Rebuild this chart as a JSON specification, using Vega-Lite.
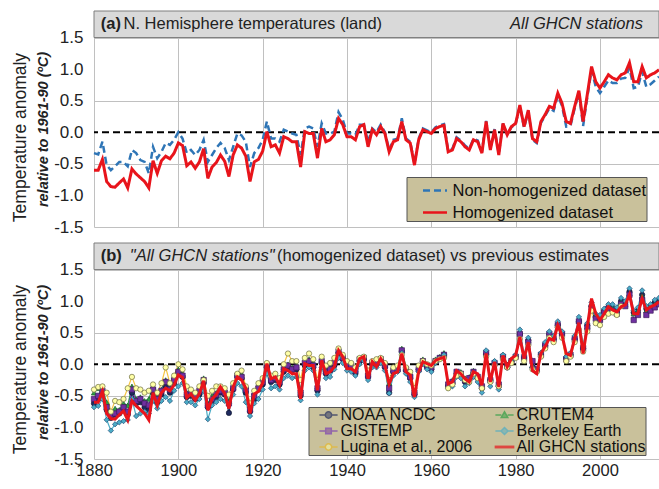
{
"$schema": "https://vega.github.io/schema/vega-lite/v6.json",
"background": "white",
"padding": {"left": 11, "top": 10, "right": 0, "bottom": 0},
"spacing": 7,
"config": {
  "font": "Liberation Sans",
  "view": {"stroke": null},
  "axis": {"labelFont": "Liberation Sans", "titleFont": "Liberation Sans", "labelColor": "#222222", "titleColor": "#222222", "labelOverlap": false, "labelSeparation": -100},
  "legend": {"labelFont": "Liberation Sans"}
},
"datasets": {
"a": [
{"yr":1880,"s":"non","v":-0.33},{"yr":1881,"s":"non","v":-0.35},{"yr":1882,"s":"non","v":-0.15},{"yr":1883,"s":"non","v":-0.52},{"yr":1884,"s":"non","v":-0.60},{"yr":1885,"s":"non","v":-0.54},{"yr":1886,"s":"non","v":-0.47},{"yr":1887,"s":"non","v":-0.47},{"yr":1888,"s":"non","v":-0.54},{"yr":1889,"s":"non","v":-0.28},
{"yr":1890,"s":"non","v":-0.33},{"yr":1891,"s":"non","v":-0.44},{"yr":1892,"s":"non","v":-0.47},{"yr":1893,"s":"non","v":-0.65},{"yr":1894,"s":"non","v":-0.23},{"yr":1895,"s":"non","v":-0.41},{"yr":1896,"s":"non","v":-0.31},{"yr":1897,"s":"non","v":-0.17},{"yr":1898,"s":"non","v":-0.20},{"yr":1899,"s":"non","v":-0.12},
{"yr":1900,"s":"non","v":0.00},{"yr":1901,"s":"non","v":-0.10},{"yr":1902,"s":"non","v":-0.33},{"yr":1903,"s":"non","v":-0.28},{"yr":1904,"s":"non","v":-0.36},{"yr":1905,"s":"non","v":-0.28},{"yr":1906,"s":"non","v":-0.12},{"yr":1907,"s":"non","v":-0.47},{"yr":1908,"s":"non","v":-0.36},{"yr":1909,"s":"non","v":-0.25},
{"yr":1910,"s":"non","v":-0.17},{"yr":1911,"s":"non","v":-0.25},{"yr":1912,"s":"non","v":-0.44},{"yr":1913,"s":"non","v":-0.23},{"yr":1914,"s":"non","v":-0.02},{"yr":1915,"s":"non","v":-0.05},{"yr":1916,"s":"non","v":-0.15},{"yr":1917,"s":"non","v":-0.55},{"yr":1918,"s":"non","v":-0.33},{"yr":1919,"s":"non","v":-0.25},
{"yr":1920,"s":"non","v":-0.12},{"yr":1921,"s":"non","v":0.17},{"yr":1922,"s":"non","v":-0.10},{"yr":1923,"s":"non","v":-0.10},{"yr":1924,"s":"non","v":-0.15},{"yr":1925,"s":"non","v":0.04},{"yr":1926,"s":"non","v":0.01},{"yr":1927,"s":"non","v":-0.02},{"yr":1928,"s":"non","v":-0.04},{"yr":1929,"s":"non","v":-0.36},
{"yr":1930,"s":"non","v":0.06},{"yr":1931,"s":"non","v":0.09},{"yr":1932,"s":"non","v":0.06},{"yr":1933,"s":"non","v":-0.23},{"yr":1934,"s":"non","v":0.14},{"yr":1935,"s":"non","v":-0.02},{"yr":1936,"s":"non","v":-0.02},{"yr":1937,"s":"non","v":0.01},{"yr":1938,"s":"non","v":0.32},{"yr":1939,"s":"non","v":0.20},
{"yr":1940,"s":"non","v":-0.02},{"yr":1941,"s":"non","v":-0.02},{"yr":1942,"s":"non","v":-0.04},{"yr":1943,"s":"non","v":0.12},{"yr":1944,"s":"non","v":0.12},{"yr":1945,"s":"non","v":-0.15},{"yr":1946,"s":"non","v":0.06},{"yr":1947,"s":"non","v":0.00},{"yr":1948,"s":"non","v":0.12},{"yr":1949,"s":"non","v":0.00},
{"yr":1950,"s":"non","v":-0.28},{"yr":1951,"s":"non","v":-0.12},{"yr":1952,"s":"non","v":-0.10},{"yr":1953,"s":"non","v":0.22},{"yr":1954,"s":"non","v":-0.10},{"yr":1955,"s":"non","v":-0.15},{"yr":1956,"s":"non","v":-0.50},{"yr":1957,"s":"non","v":-0.10},{"yr":1958,"s":"non","v":0.06},{"yr":1959,"s":"non","v":0.03},
{"yr":1960,"s":"non","v":0.00},{"yr":1961,"s":"non","v":0.08},{"yr":1962,"s":"non","v":0.11},{"yr":1963,"s":"non","v":0.13},{"yr":1964,"s":"non","v":-0.29},{"yr":1965,"s":"non","v":-0.26},{"yr":1966,"s":"non","v":-0.08},{"yr":1967,"s":"non","v":-0.13},{"yr":1968,"s":"non","v":-0.21},{"yr":1969,"s":"non","v":-0.26},
{"yr":1970,"s":"non","v":-0.10},{"yr":1971,"s":"non","v":-0.13},{"yr":1972,"s":"non","v":-0.31},{"yr":1973,"s":"non","v":0.18},{"yr":1974,"s":"non","v":-0.26},{"yr":1975,"s":"non","v":0.05},{"yr":1976,"s":"non","v":-0.34},{"yr":1977,"s":"non","v":0.14},{"yr":1978,"s":"non","v":-0.04},{"yr":1979,"s":"non","v":0.08},
{"yr":1980,"s":"non","v":0.13},{"yr":1981,"s":"non","v":0.42},{"yr":1982,"s":"non","v":0.07},{"yr":1983,"s":"non","v":0.33},{"yr":1984,"s":"non","v":-0.12},{"yr":1985,"s":"non","v":-0.17},{"yr":1986,"s":"non","v":0.15},{"yr":1987,"s":"non","v":0.26},{"yr":1988,"s":"non","v":0.38},{"yr":1989,"s":"non","v":0.34},
{"yr":1990,"s":"non","v":0.58},{"yr":1991,"s":"non","v":0.42},{"yr":1992,"s":"non","v":0.09},{"yr":1993,"s":"non","v":0.10},{"yr":1994,"s":"non","v":0.38},{"yr":1995,"s":"non","v":0.62},{"yr":1996,"s":"non","v":0.10},{"yr":1997,"s":"non","v":0.56},{"yr":1998,"s":"non","v":0.98},{"yr":1999,"s":"non","v":0.72},
{"yr":2000,"s":"non","v":0.62},{"yr":2001,"s":"non","v":0.72},{"yr":2002,"s":"non","v":0.82},{"yr":2003,"s":"non","v":0.78},{"yr":2004,"s":"non","v":0.78},{"yr":2005,"s":"non","v":0.85},{"yr":2006,"s":"non","v":0.86},{"yr":2007,"s":"non","v":1.02},{"yr":2008,"s":"non","v":0.70},{"yr":2009,"s":"non","v":0.72},
{"yr":2010,"s":"non","v":0.96},{"yr":2011,"s":"non","v":0.72},{"yr":2012,"s":"non","v":0.76},{"yr":2013,"s":"non","v":0.82},{"yr":2014,"s":"non","v":0.88},
{"yr":1880,"s":"hom","v":-0.60},{"yr":1881,"s":"hom","v":-0.60},{"yr":1882,"s":"hom","v":-0.43},{"yr":1883,"s":"hom","v":-0.78},{"yr":1884,"s":"hom","v":-0.86},{"yr":1885,"s":"hom","v":-0.87},{"yr":1886,"s":"hom","v":-0.80},{"yr":1887,"s":"hom","v":-0.74},{"yr":1888,"s":"hom","v":-0.88},{"yr":1889,"s":"hom","v":-0.58},
{"yr":1890,"s":"hom","v":-0.66},{"yr":1891,"s":"hom","v":-0.72},{"yr":1892,"s":"hom","v":-0.78},{"yr":1893,"s":"hom","v":-0.88},{"yr":1894,"s":"hom","v":-0.45},{"yr":1895,"s":"hom","v":-0.65},{"yr":1896,"s":"hom","v":-0.45},{"yr":1897,"s":"hom","v":-0.38},{"yr":1898,"s":"hom","v":-0.42},{"yr":1899,"s":"hom","v":-0.33},
{"yr":1900,"s":"hom","v":-0.17},{"yr":1901,"s":"hom","v":-0.21},{"yr":1902,"s":"hom","v":-0.53},{"yr":1903,"s":"hom","v":-0.47},{"yr":1904,"s":"hom","v":-0.57},{"yr":1905,"s":"hom","v":-0.47},{"yr":1906,"s":"hom","v":-0.26},{"yr":1907,"s":"hom","v":-0.73},{"yr":1908,"s":"hom","v":-0.55},{"yr":1909,"s":"hom","v":-0.48},
{"yr":1910,"s":"hom","v":-0.36},{"yr":1911,"s":"hom","v":-0.46},{"yr":1912,"s":"hom","v":-0.70},{"yr":1913,"s":"hom","v":-0.36},{"yr":1914,"s":"hom","v":-0.20},{"yr":1915,"s":"hom","v":-0.25},{"yr":1916,"s":"hom","v":-0.38},{"yr":1917,"s":"hom","v":-0.78},{"yr":1918,"s":"hom","v":-0.47},{"yr":1919,"s":"hom","v":-0.43},
{"yr":1920,"s":"hom","v":-0.30},{"yr":1921,"s":"hom","v":0.01},{"yr":1922,"s":"hom","v":-0.23},{"yr":1923,"s":"hom","v":-0.20},{"yr":1924,"s":"hom","v":-0.33},{"yr":1925,"s":"hom","v":-0.07},{"yr":1926,"s":"hom","v":-0.10},{"yr":1927,"s":"hom","v":-0.15},{"yr":1928,"s":"hom","v":-0.15},{"yr":1929,"s":"hom","v":-0.55},
{"yr":1930,"s":"hom","v":0.01},{"yr":1931,"s":"hom","v":-0.02},{"yr":1932,"s":"hom","v":-0.02},{"yr":1933,"s":"hom","v":-0.41},{"yr":1934,"s":"hom","v":0.06},{"yr":1935,"s":"hom","v":-0.15},{"yr":1936,"s":"hom","v":-0.12},{"yr":1937,"s":"hom","v":-0.04},{"yr":1938,"s":"hom","v":0.22},{"yr":1939,"s":"hom","v":0.12},
{"yr":1940,"s":"hom","v":-0.07},{"yr":1941,"s":"hom","v":-0.07},{"yr":1942,"s":"hom","v":-0.12},{"yr":1943,"s":"hom","v":0.09},{"yr":1944,"s":"hom","v":0.12},{"yr":1945,"s":"hom","v":-0.23},{"yr":1946,"s":"hom","v":0.04},{"yr":1947,"s":"hom","v":-0.04},{"yr":1948,"s":"hom","v":0.09},{"yr":1949,"s":"hom","v":-0.02},
{"yr":1950,"s":"hom","v":-0.31},{"yr":1951,"s":"hom","v":-0.15},{"yr":1952,"s":"hom","v":-0.12},{"yr":1953,"s":"hom","v":0.17},{"yr":1954,"s":"hom","v":-0.12},{"yr":1955,"s":"hom","v":-0.17},{"yr":1956,"s":"hom","v":-0.52},{"yr":1957,"s":"hom","v":-0.12},{"yr":1958,"s":"hom","v":0.04},{"yr":1959,"s":"hom","v":0.01},
{"yr":1960,"s":"hom","v":-0.02},{"yr":1961,"s":"hom","v":0.06},{"yr":1962,"s":"hom","v":0.09},{"yr":1963,"s":"hom","v":0.11},{"yr":1964,"s":"hom","v":-0.31},{"yr":1965,"s":"hom","v":-0.28},{"yr":1966,"s":"hom","v":-0.10},{"yr":1967,"s":"hom","v":-0.15},{"yr":1968,"s":"hom","v":-0.23},{"yr":1969,"s":"hom","v":-0.28},
{"yr":1970,"s":"hom","v":-0.12},{"yr":1971,"s":"hom","v":-0.15},{"yr":1972,"s":"hom","v":-0.33},{"yr":1973,"s":"hom","v":0.17},{"yr":1974,"s":"hom","v":-0.28},{"yr":1975,"s":"hom","v":0.04},{"yr":1976,"s":"hom","v":-0.36},{"yr":1977,"s":"hom","v":0.14},{"yr":1978,"s":"hom","v":-0.04},{"yr":1979,"s":"hom","v":0.09},
{"yr":1980,"s":"hom","v":0.14},{"yr":1981,"s":"hom","v":0.43},{"yr":1982,"s":"hom","v":0.09},{"yr":1983,"s":"hom","v":0.35},{"yr":1984,"s":"hom","v":-0.10},{"yr":1985,"s":"hom","v":-0.15},{"yr":1986,"s":"hom","v":0.17},{"yr":1987,"s":"hom","v":0.28},{"yr":1988,"s":"hom","v":0.41},{"yr":1989,"s":"hom","v":0.38},
{"yr":1990,"s":"hom","v":0.62},{"yr":1991,"s":"hom","v":0.46},{"yr":1992,"s":"hom","v":0.17},{"yr":1993,"s":"hom","v":0.14},{"yr":1994,"s":"hom","v":0.41},{"yr":1995,"s":"hom","v":0.66},{"yr":1996,"s":"hom","v":0.17},{"yr":1997,"s":"hom","v":0.60},{"yr":1998,"s":"hom","v":1.04},{"yr":1999,"s":"hom","v":0.80},
{"yr":2000,"s":"hom","v":0.70},{"yr":2001,"s":"hom","v":0.80},{"yr":2002,"s":"hom","v":0.91},{"yr":2003,"s":"hom","v":0.86},{"yr":2004,"s":"hom","v":0.83},{"yr":2005,"s":"hom","v":0.91},{"yr":2006,"s":"hom","v":0.94},{"yr":2007,"s":"hom","v":1.10},{"yr":2008,"s":"hom","v":0.80},{"yr":2009,"s":"hom","v":0.80},
{"yr":2010,"s":"hom","v":1.04},{"yr":2011,"s":"hom","v":0.86},{"yr":2012,"s":"hom","v":0.91},{"yr":2013,"s":"hom","v":0.94},{"yr":2014,"s":"hom","v":0.99}
],
"b": [
{"yr":1880,"s":"NOAA","v":-0.62},{"yr":1881,"s":"NOAA","v":-0.55},{"yr":1882,"s":"NOAA","v":-0.45},{"yr":1883,"s":"NOAA","v":-0.72},{"yr":1884,"s":"NOAA","v":-0.85},{"yr":1885,"s":"NOAA","v":-0.80},{"yr":1886,"s":"NOAA","v":-0.78},{"yr":1887,"s":"NOAA","v":-0.72},{"yr":1888,"s":"NOAA","v":-0.80},{"yr":1889,"s":"NOAA","v":-0.45},
{"yr":1890,"s":"NOAA","v":-0.62},{"yr":1891,"s":"NOAA","v":-0.60},{"yr":1892,"s":"NOAA","v":-0.68},{"yr":1893,"s":"NOAA","v":-0.72},{"yr":1894,"s":"NOAA","v":-0.45},{"yr":1895,"s":"NOAA","v":-0.60},{"yr":1896,"s":"NOAA","v":-0.48},{"yr":1897,"s":"NOAA","v":-0.35},{"yr":1898,"s":"NOAA","v":-0.45},{"yr":1899,"s":"NOAA","v":-0.30},
{"yr":1900,"s":"NOAA","v":-0.15},{"yr":1901,"s":"NOAA","v":-0.20},{"yr":1902,"s":"NOAA","v":-0.52},{"yr":1903,"s":"NOAA","v":-0.50},{"yr":1904,"s":"NOAA","v":-0.55},{"yr":1905,"s":"NOAA","v":-0.48},{"yr":1906,"s":"NOAA","v":-0.30},{"yr":1907,"s":"NOAA","v":-0.68},{"yr":1908,"s":"NOAA","v":-0.58},{"yr":1909,"s":"NOAA","v":-0.52},
{"yr":1910,"s":"NOAA","v":-0.45},{"yr":1911,"s":"NOAA","v":-0.48},{"yr":1912,"s":"NOAA","v":-0.77},{"yr":1913,"s":"NOAA","v":-0.40},{"yr":1914,"s":"NOAA","v":-0.20},{"yr":1915,"s":"NOAA","v":-0.22},{"yr":1916,"s":"NOAA","v":-0.45},{"yr":1917,"s":"NOAA","v":-0.75},{"yr":1918,"s":"NOAA","v":-0.55},{"yr":1919,"s":"NOAA","v":-0.40},
{"yr":1920,"s":"NOAA","v":-0.32},{"yr":1921,"s":"NOAA","v":-0.05},{"yr":1922,"s":"NOAA","v":-0.28},{"yr":1923,"s":"NOAA","v":-0.25},{"yr":1924,"s":"NOAA","v":-0.32},{"yr":1925,"s":"NOAA","v":-0.12},{"yr":1926,"s":"NOAA","v":-0.05},{"yr":1927,"s":"NOAA","v":-0.10},{"yr":1928,"s":"NOAA","v":-0.08},{"yr":1929,"s":"NOAA","v":-0.50},
{"yr":1930,"s":"NOAA","v":-0.02},{"yr":1931,"s":"NOAA","v":0.02},{"yr":1932,"s":"NOAA","v":-0.05},{"yr":1933,"s":"NOAA","v":-0.42},{"yr":1934,"s":"NOAA","v":0.02},{"yr":1935,"s":"NOAA","v":-0.15},{"yr":1936,"s":"NOAA","v":-0.10},{"yr":1937,"s":"NOAA","v":-0.02},{"yr":1938,"s":"NOAA","v":0.18},{"yr":1939,"s":"NOAA","v":0.08},
{"yr":1940,"s":"NOAA","v":-0.02},{"yr":1941,"s":"NOAA","v":-0.05},{"yr":1942,"s":"NOAA","v":-0.15},{"yr":1943,"s":"NOAA","v":0.05},{"yr":1944,"s":"NOAA","v":0.08},{"yr":1945,"s":"NOAA","v":-0.20},{"yr":1946,"s":"NOAA","v":0.00},{"yr":1947,"s":"NOAA","v":0.00},{"yr":1948,"s":"NOAA","v":0.05},{"yr":1949,"s":"NOAA","v":-0.05},
{"yr":1950,"s":"NOAA","v":-0.45},{"yr":1951,"s":"NOAA","v":-0.12},{"yr":1952,"s":"NOAA","v":-0.10},{"yr":1953,"s":"NOAA","v":0.20},{"yr":1954,"s":"NOAA","v":-0.10},{"yr":1955,"s":"NOAA","v":-0.22},{"yr":1956,"s":"NOAA","v":-0.48},{"yr":1957,"s":"NOAA","v":-0.08},{"yr":1958,"s":"NOAA","v":0.05},{"yr":1959,"s":"NOAA","v":-0.05},
{"yr":1960,"s":"NOAA","v":-0.08},{"yr":1961,"s":"NOAA","v":0.05},{"yr":1962,"s":"NOAA","v":0.10},{"yr":1963,"s":"NOAA","v":0.15},{"yr":1964,"s":"NOAA","v":-0.35},{"yr":1965,"s":"NOAA","v":-0.30},{"yr":1966,"s":"NOAA","v":-0.15},{"yr":1967,"s":"NOAA","v":-0.18},{"yr":1968,"s":"NOAA","v":-0.28},{"yr":1969,"s":"NOAA","v":-0.25},
{"yr":1970,"s":"NOAA","v":-0.15},{"yr":1971,"s":"NOAA","v":-0.22},{"yr":1972,"s":"NOAA","v":-0.38},{"yr":1973,"s":"NOAA","v":0.15},{"yr":1974,"s":"NOAA","v":-0.25},{"yr":1975,"s":"NOAA","v":0.00},{"yr":1976,"s":"NOAA","v":-0.35},{"yr":1977,"s":"NOAA","v":0.10},{"yr":1978,"s":"NOAA","v":-0.05},{"yr":1979,"s":"NOAA","v":0.05},
{"yr":1980,"s":"NOAA","v":0.12},{"yr":1981,"s":"NOAA","v":0.48},{"yr":1982,"s":"NOAA","v":0.10},{"yr":1983,"s":"NOAA","v":0.38},{"yr":1984,"s":"NOAA","v":-0.05},{"yr":1985,"s":"NOAA","v":-0.10},{"yr":1986,"s":"NOAA","v":0.15},{"yr":1987,"s":"NOAA","v":0.30},{"yr":1988,"s":"NOAA","v":0.48},{"yr":1989,"s":"NOAA","v":0.40},
{"yr":1990,"s":"NOAA","v":0.62},{"yr":1991,"s":"NOAA","v":0.48},{"yr":1992,"s":"NOAA","v":0.10},{"yr":1993,"s":"NOAA","v":0.15},{"yr":1994,"s":"NOAA","v":0.40},{"yr":1995,"s":"NOAA","v":0.68},{"yr":1996,"s":"NOAA","v":0.25},{"yr":1997,"s":"NOAA","v":0.62},{"yr":1998,"s":"NOAA","v":0.92},{"yr":1999,"s":"NOAA","v":0.75},
{"yr":2000,"s":"NOAA","v":0.72},{"yr":2001,"s":"NOAA","v":0.85},{"yr":2002,"s":"NOAA","v":0.90},{"yr":2003,"s":"NOAA","v":0.88},{"yr":2004,"s":"NOAA","v":0.85},{"yr":2005,"s":"NOAA","v":1.00},{"yr":2006,"s":"NOAA","v":0.98},{"yr":2007,"s":"NOAA","v":1.15},{"yr":2008,"s":"NOAA","v":0.82},{"yr":2009,"s":"NOAA","v":0.85},
{"yr":2010,"s":"NOAA","v":1.10},{"yr":2011,"s":"NOAA","v":0.88},{"yr":2012,"s":"NOAA","v":0.92},{"yr":2013,"s":"NOAA","v":0.98},{"yr":2014,"s":"NOAA","v":1.00},
{"yr":1880,"s":"CRU","v":-0.45},{"yr":1881,"s":"CRU","v":-0.38},{"yr":1882,"s":"CRU","v":-0.40},{"yr":1883,"s":"CRU","v":-0.60},{"yr":1884,"s":"CRU","v":-0.78},{"yr":1885,"s":"CRU","v":-0.70},{"yr":1886,"s":"CRU","v":-0.72},{"yr":1887,"s":"CRU","v":-0.62},{"yr":1888,"s":"CRU","v":-0.65},{"yr":1889,"s":"CRU","v":-0.35},
{"yr":1890,"s":"CRU","v":-0.55},{"yr":1891,"s":"CRU","v":-0.52},{"yr":1892,"s":"CRU","v":-0.58},{"yr":1893,"s":"CRU","v":-0.55},{"yr":1894,"s":"CRU","v":-0.35},{"yr":1895,"s":"CRU","v":-0.50},{"yr":1896,"s":"CRU","v":-0.40},{"yr":1897,"s":"CRU","v":-0.25},{"yr":1898,"s":"CRU","v":-0.38},{"yr":1899,"s":"CRU","v":-0.20},
{"yr":1900,"s":"CRU","v":-0.08},{"yr":1901,"s":"CRU","v":-0.15},{"yr":1902,"s":"CRU","v":-0.45},{"yr":1903,"s":"CRU","v":-0.42},{"yr":1904,"s":"CRU","v":-0.50},{"yr":1905,"s":"CRU","v":-0.40},{"yr":1906,"s":"CRU","v":-0.22},{"yr":1907,"s":"CRU","v":-0.62},{"yr":1908,"s":"CRU","v":-0.50},{"yr":1909,"s":"CRU","v":-0.45},
{"yr":1910,"s":"CRU","v":-0.38},{"yr":1911,"s":"CRU","v":-0.42},{"yr":1912,"s":"CRU","v":-0.58},{"yr":1913,"s":"CRU","v":-0.35},{"yr":1914,"s":"CRU","v":-0.15},{"yr":1915,"s":"CRU","v":-0.15},{"yr":1916,"s":"CRU","v":-0.35},{"yr":1917,"s":"CRU","v":-0.65},{"yr":1918,"s":"CRU","v":-0.45},{"yr":1919,"s":"CRU","v":-0.32},
{"yr":1920,"s":"CRU","v":-0.25},{"yr":1921,"s":"CRU","v":0.00},{"yr":1922,"s":"CRU","v":-0.22},{"yr":1923,"s":"CRU","v":-0.20},{"yr":1924,"s":"CRU","v":-0.25},{"yr":1925,"s":"CRU","v":-0.05},{"yr":1926,"s":"CRU","v":0.00},{"yr":1927,"s":"CRU","v":-0.05},{"yr":1928,"s":"CRU","v":-0.02},{"yr":1929,"s":"CRU","v":-0.42},
{"yr":1930,"s":"CRU","v":0.05},{"yr":1931,"s":"CRU","v":0.08},{"yr":1932,"s":"CRU","v":0.02},{"yr":1933,"s":"CRU","v":-0.35},{"yr":1934,"s":"CRU","v":0.08},{"yr":1935,"s":"CRU","v":-0.08},{"yr":1936,"s":"CRU","v":-0.05},{"yr":1937,"s":"CRU","v":0.05},{"yr":1938,"s":"CRU","v":0.22},{"yr":1939,"s":"CRU","v":0.12},
{"yr":1940,"s":"CRU","v":0.02},{"yr":1941,"s":"CRU","v":0.00},{"yr":1942,"s":"CRU","v":-0.08},{"yr":1943,"s":"CRU","v":0.10},{"yr":1944,"s":"CRU","v":0.12},{"yr":1945,"s":"CRU","v":-0.12},{"yr":1946,"s":"CRU","v":0.05},{"yr":1947,"s":"CRU","v":0.05},{"yr":1948,"s":"CRU","v":0.10},{"yr":1949,"s":"CRU","v":0.00},
{"yr":1950,"s":"CRU","v":-0.30},{"yr":1951,"s":"CRU","v":-0.08},{"yr":1952,"s":"CRU","v":-0.05},{"yr":1953,"s":"CRU","v":0.25},{"yr":1954,"s":"CRU","v":-0.05},{"yr":1955,"s":"CRU","v":-0.15},{"yr":1956,"s":"CRU","v":-0.42},{"yr":1957,"s":"CRU","v":-0.05},{"yr":1958,"s":"CRU","v":0.08},{"yr":1959,"s":"CRU","v":0.00},
{"yr":1960,"s":"CRU","v":-0.02},{"yr":1961,"s":"CRU","v":0.08},{"yr":1962,"s":"CRU","v":0.12},{"yr":1963,"s":"CRU","v":0.18},{"yr":1964,"s":"CRU","v":-0.30},{"yr":1965,"s":"CRU","v":-0.25},{"yr":1966,"s":"CRU","v":-0.12},{"yr":1967,"s":"CRU","v":-0.12},{"yr":1968,"s":"CRU","v":-0.22},{"yr":1969,"s":"CRU","v":-0.20},
{"yr":1970,"s":"CRU","v":-0.10},{"yr":1971,"s":"CRU","v":-0.18},{"yr":1972,"s":"CRU","v":-0.32},{"yr":1973,"s":"CRU","v":0.20},{"yr":1974,"s":"CRU","v":-0.22},{"yr":1975,"s":"CRU","v":0.05},{"yr":1976,"s":"CRU","v":-0.30},{"yr":1977,"s":"CRU","v":0.15},{"yr":1978,"s":"CRU","v":0.00},{"yr":1979,"s":"CRU","v":0.08},
{"yr":1980,"s":"CRU","v":0.15},{"yr":1981,"s":"CRU","v":0.50},{"yr":1982,"s":"CRU","v":0.12},{"yr":1983,"s":"CRU","v":0.38},{"yr":1984,"s":"CRU","v":-0.02},{"yr":1985,"s":"CRU","v":-0.08},{"yr":1986,"s":"CRU","v":0.18},{"yr":1987,"s":"CRU","v":0.32},{"yr":1988,"s":"CRU","v":0.50},{"yr":1989,"s":"CRU","v":0.42},
{"yr":1990,"s":"CRU","v":0.65},{"yr":1991,"s":"CRU","v":0.50},{"yr":1992,"s":"CRU","v":0.12},{"yr":1993,"s":"CRU","v":0.18},{"yr":1994,"s":"CRU","v":0.42},{"yr":1995,"s":"CRU","v":0.70},{"yr":1996,"s":"CRU","v":0.28},{"yr":1997,"s":"CRU","v":0.60},{"yr":1998,"s":"CRU","v":0.95},{"yr":1999,"s":"CRU","v":0.78},
{"yr":2000,"s":"CRU","v":0.72},{"yr":2001,"s":"CRU","v":0.85},{"yr":2002,"s":"CRU","v":0.92},{"yr":2003,"s":"CRU","v":0.90},{"yr":2004,"s":"CRU","v":0.85},{"yr":2005,"s":"CRU","v":0.98},{"yr":2006,"s":"CRU","v":0.95},{"yr":2007,"s":"CRU","v":1.12},{"yr":2008,"s":"CRU","v":0.80},{"yr":2009,"s":"CRU","v":0.85},
{"yr":2010,"s":"CRU","v":1.08},{"yr":2011,"s":"CRU","v":0.85},{"yr":2012,"s":"CRU","v":0.90},{"yr":2013,"s":"CRU","v":0.95},{"yr":2014,"s":"CRU","v":0.98},
{"yr":1880,"s":"GISS","v":-0.55},{"yr":1881,"s":"GISS","v":-0.50},{"yr":1882,"s":"GISS","v":-0.42},{"yr":1883,"s":"GISS","v":-0.68},{"yr":1884,"s":"GISS","v":-0.80},{"yr":1885,"s":"GISS","v":-0.78},{"yr":1886,"s":"GISS","v":-0.75},{"yr":1887,"s":"GISS","v":-0.68},{"yr":1888,"s":"GISS","v":-0.75},{"yr":1889,"s":"GISS","v":-0.40},
{"yr":1890,"s":"GISS","v":-0.58},{"yr":1891,"s":"GISS","v":-0.55},{"yr":1892,"s":"GISS","v":-0.62},{"yr":1893,"s":"GISS","v":-0.65},{"yr":1894,"s":"GISS","v":-0.40},{"yr":1895,"s":"GISS","v":-0.55},{"yr":1896,"s":"GISS","v":-0.42},{"yr":1897,"s":"GISS","v":-0.28},{"yr":1898,"s":"GISS","v":-0.40},{"yr":1899,"s":"GISS","v":-0.25},
{"yr":1900,"s":"GISS","v":-0.12},{"yr":1901,"s":"GISS","v":-0.18},{"yr":1902,"s":"GISS","v":-0.48},{"yr":1903,"s":"GISS","v":-0.45},{"yr":1904,"s":"GISS","v":-0.52},{"yr":1905,"s":"GISS","v":-0.42},{"yr":1906,"s":"GISS","v":-0.25},{"yr":1907,"s":"GISS","v":-0.65},{"yr":1908,"s":"GISS","v":-0.55},{"yr":1909,"s":"GISS","v":-0.48},
{"yr":1910,"s":"GISS","v":-0.42},{"yr":1911,"s":"GISS","v":-0.45},{"yr":1912,"s":"GISS","v":-0.62},{"yr":1913,"s":"GISS","v":-0.38},{"yr":1914,"s":"GISS","v":-0.18},{"yr":1915,"s":"GISS","v":-0.20},{"yr":1916,"s":"GISS","v":-0.40},{"yr":1917,"s":"GISS","v":-0.72},{"yr":1918,"s":"GISS","v":-0.50},{"yr":1919,"s":"GISS","v":-0.38},
{"yr":1920,"s":"GISS","v":-0.28},{"yr":1921,"s":"GISS","v":-0.02},{"yr":1922,"s":"GISS","v":-0.25},{"yr":1923,"s":"GISS","v":-0.22},{"yr":1924,"s":"GISS","v":-0.28},{"yr":1925,"s":"GISS","v":-0.08},{"yr":1926,"s":"GISS","v":-0.02},{"yr":1927,"s":"GISS","v":-0.08},{"yr":1928,"s":"GISS","v":-0.05},{"yr":1929,"s":"GISS","v":-0.45},
{"yr":1930,"s":"GISS","v":0.02},{"yr":1931,"s":"GISS","v":0.05},{"yr":1932,"s":"GISS","v":-0.02},{"yr":1933,"s":"GISS","v":-0.38},{"yr":1934,"s":"GISS","v":0.05},{"yr":1935,"s":"GISS","v":-0.12},{"yr":1936,"s":"GISS","v":-0.08},{"yr":1937,"s":"GISS","v":0.02},{"yr":1938,"s":"GISS","v":0.20},{"yr":1939,"s":"GISS","v":0.10},
{"yr":1940,"s":"GISS","v":0.00},{"yr":1941,"s":"GISS","v":-0.02},{"yr":1942,"s":"GISS","v":-0.10},{"yr":1943,"s":"GISS","v":0.08},{"yr":1944,"s":"GISS","v":0.10},{"yr":1945,"s":"GISS","v":-0.18},{"yr":1946,"s":"GISS","v":0.02},{"yr":1947,"s":"GISS","v":0.02},{"yr":1948,"s":"GISS","v":0.08},{"yr":1949,"s":"GISS","v":-0.02},
{"yr":1950,"s":"GISS","v":-0.38},{"yr":1951,"s":"GISS","v":-0.10},{"yr":1952,"s":"GISS","v":-0.08},{"yr":1953,"s":"GISS","v":0.22},{"yr":1954,"s":"GISS","v":-0.08},{"yr":1955,"s":"GISS","v":-0.20},{"yr":1956,"s":"GISS","v":-0.45},{"yr":1957,"s":"GISS","v":-0.08},{"yr":1958,"s":"GISS","v":0.05},{"yr":1959,"s":"GISS","v":-0.02},
{"yr":1960,"s":"GISS","v":-0.05},{"yr":1961,"s":"GISS","v":0.05},{"yr":1962,"s":"GISS","v":0.10},{"yr":1963,"s":"GISS","v":0.15},{"yr":1964,"s":"GISS","v":-0.32},{"yr":1965,"s":"GISS","v":-0.28},{"yr":1966,"s":"GISS","v":-0.12},{"yr":1967,"s":"GISS","v":-0.15},{"yr":1968,"s":"GISS","v":-0.25},{"yr":1969,"s":"GISS","v":-0.22},
{"yr":1970,"s":"GISS","v":-0.12},{"yr":1971,"s":"GISS","v":-0.20},{"yr":1972,"s":"GISS","v":-0.35},{"yr":1973,"s":"GISS","v":0.18},{"yr":1974,"s":"GISS","v":-0.25},{"yr":1975,"s":"GISS","v":0.02},{"yr":1976,"s":"GISS","v":-0.32},{"yr":1977,"s":"GISS","v":0.12},{"yr":1978,"s":"GISS","v":-0.02},{"yr":1979,"s":"GISS","v":0.05},
{"yr":1980,"s":"GISS","v":0.12},{"yr":1981,"s":"GISS","v":0.48},{"yr":1982,"s":"GISS","v":0.10},{"yr":1983,"s":"GISS","v":0.35},{"yr":1984,"s":"GISS","v":0.05},{"yr":1985,"s":"GISS","v":-0.08},{"yr":1986,"s":"GISS","v":0.15},{"yr":1987,"s":"GISS","v":0.30},{"yr":1988,"s":"GISS","v":0.48},{"yr":1989,"s":"GISS","v":0.40},
{"yr":1990,"s":"GISS","v":0.62},{"yr":1991,"s":"GISS","v":0.48},{"yr":1992,"s":"GISS","v":0.08},{"yr":1993,"s":"GISS","v":0.15},{"yr":1994,"s":"GISS","v":0.40},{"yr":1995,"s":"GISS","v":0.68},{"yr":1996,"s":"GISS","v":0.25},{"yr":1997,"s":"GISS","v":0.58},{"yr":1998,"s":"GISS","v":0.90},{"yr":1999,"s":"GISS","v":0.72},
{"yr":2000,"s":"GISS","v":0.70},{"yr":2001,"s":"GISS","v":0.82},{"yr":2002,"s":"GISS","v":0.88},{"yr":2003,"s":"GISS","v":0.85},{"yr":2004,"s":"GISS","v":0.80},{"yr":2005,"s":"GISS","v":0.95},{"yr":2006,"s":"GISS","v":0.92},{"yr":2007,"s":"GISS","v":1.10},{"yr":2008,"s":"GISS","v":0.70},{"yr":2009,"s":"GISS","v":0.78},
{"yr":2010,"s":"GISS","v":1.02},{"yr":2011,"s":"GISS","v":0.78},{"yr":2012,"s":"GISS","v":0.85},{"yr":2013,"s":"GISS","v":0.90},{"yr":2014,"s":"GISS","v":0.95},
{"yr":1880,"s":"BE","v":-0.68},{"yr":1881,"s":"BE","v":-0.66},{"yr":1882,"s":"BE","v":-0.55},{"yr":1883,"s":"BE","v":-0.88},{"yr":1884,"s":"BE","v":-1.05},{"yr":1885,"s":"BE","v":-0.95},{"yr":1886,"s":"BE","v":-0.92},{"yr":1887,"s":"BE","v":-0.90},{"yr":1888,"s":"BE","v":-0.88},{"yr":1889,"s":"BE","v":-0.55},
{"yr":1890,"s":"BE","v":-0.82},{"yr":1891,"s":"BE","v":-0.78},{"yr":1892,"s":"BE","v":-0.75},{"yr":1893,"s":"BE","v":-0.78},{"yr":1894,"s":"BE","v":-0.58},{"yr":1895,"s":"BE","v":-0.70},{"yr":1896,"s":"BE","v":-0.58},{"yr":1897,"s":"BE","v":-0.52},{"yr":1898,"s":"BE","v":-0.58},{"yr":1899,"s":"BE","v":-0.42},
{"yr":1900,"s":"BE","v":-0.35},{"yr":1901,"s":"BE","v":-0.30},{"yr":1902,"s":"BE","v":-0.60},{"yr":1903,"s":"BE","v":-0.60},{"yr":1904,"s":"BE","v":-0.65},{"yr":1905,"s":"BE","v":-0.55},{"yr":1906,"s":"BE","v":-0.42},{"yr":1907,"s":"BE","v":-0.87},{"yr":1908,"s":"BE","v":-0.65},{"yr":1909,"s":"BE","v":-0.60},
{"yr":1910,"s":"BE","v":-0.55},{"yr":1911,"s":"BE","v":-0.58},{"yr":1912,"s":"BE","v":-0.62},{"yr":1913,"s":"BE","v":-0.48},{"yr":1914,"s":"BE","v":-0.30},{"yr":1915,"s":"BE","v":-0.35},{"yr":1916,"s":"BE","v":-0.60},{"yr":1917,"s":"BE","v":-0.82},{"yr":1918,"s":"BE","v":-0.62},{"yr":1919,"s":"BE","v":-0.55},
{"yr":1920,"s":"BE","v":-0.40},{"yr":1921,"s":"BE","v":-0.15},{"yr":1922,"s":"BE","v":-0.38},{"yr":1923,"s":"BE","v":-0.35},{"yr":1924,"s":"BE","v":-0.40},{"yr":1925,"s":"BE","v":-0.22},{"yr":1926,"s":"BE","v":-0.18},{"yr":1927,"s":"BE","v":-0.22},{"yr":1928,"s":"BE","v":-0.20},{"yr":1929,"s":"BE","v":-0.57},
{"yr":1930,"s":"BE","v":-0.10},{"yr":1931,"s":"BE","v":-0.05},{"yr":1932,"s":"BE","v":-0.10},{"yr":1933,"s":"BE","v":-0.48},{"yr":1934,"s":"BE","v":-0.05},{"yr":1935,"s":"BE","v":-0.22},{"yr":1936,"s":"BE","v":-0.20},{"yr":1937,"s":"BE","v":-0.08},{"yr":1938,"s":"BE","v":0.10},{"yr":1939,"s":"BE","v":0.02},
{"yr":1940,"s":"BE","v":-0.10},{"yr":1941,"s":"BE","v":-0.12},{"yr":1942,"s":"BE","v":-0.18},{"yr":1943,"s":"BE","v":0.00},{"yr":1944,"s":"BE","v":0.05},{"yr":1945,"s":"BE","v":-0.25},{"yr":1946,"s":"BE","v":-0.05},{"yr":1947,"s":"BE","v":-0.05},{"yr":1948,"s":"BE","v":0.02},{"yr":1949,"s":"BE","v":-0.10},
{"yr":1950,"s":"BE","v":-0.46},{"yr":1951,"s":"BE","v":-0.18},{"yr":1952,"s":"BE","v":-0.12},{"yr":1953,"s":"BE","v":0.18},{"yr":1954,"s":"BE","v":-0.15},{"yr":1955,"s":"BE","v":-0.28},{"yr":1956,"s":"BE","v":-0.52},{"yr":1957,"s":"BE","v":-0.12},{"yr":1958,"s":"BE","v":0.00},{"yr":1959,"s":"BE","v":-0.08},
{"yr":1960,"s":"BE","v":-0.12},{"yr":1961,"s":"BE","v":0.02},{"yr":1962,"s":"BE","v":0.08},{"yr":1963,"s":"BE","v":0.15},{"yr":1964,"s":"BE","v":-0.38},{"yr":1965,"s":"BE","v":-0.35},{"yr":1966,"s":"BE","v":-0.20},{"yr":1967,"s":"BE","v":-0.22},{"yr":1968,"s":"BE","v":-0.35},{"yr":1969,"s":"BE","v":-0.30},
{"yr":1970,"s":"BE","v":-0.20},{"yr":1971,"s":"BE","v":-0.28},{"yr":1972,"s":"BE","v":-0.45},{"yr":1973,"s":"BE","v":0.22},{"yr":1974,"s":"BE","v":-0.35},{"yr":1975,"s":"BE","v":0.05},{"yr":1976,"s":"BE","v":-0.40},{"yr":1977,"s":"BE","v":0.15},{"yr":1978,"s":"BE","v":-0.05},{"yr":1979,"s":"BE","v":0.05},
{"yr":1980,"s":"BE","v":0.15},{"yr":1981,"s":"BE","v":0.55},{"yr":1982,"s":"BE","v":0.15},{"yr":1983,"s":"BE","v":0.42},{"yr":1984,"s":"BE","v":-0.05},{"yr":1985,"s":"BE","v":-0.12},{"yr":1986,"s":"BE","v":0.18},{"yr":1987,"s":"BE","v":0.35},{"yr":1988,"s":"BE","v":0.52},{"yr":1989,"s":"BE","v":0.45},
{"yr":1990,"s":"BE","v":0.68},{"yr":1991,"s":"BE","v":0.52},{"yr":1992,"s":"BE","v":0.12},{"yr":1993,"s":"BE","v":0.18},{"yr":1994,"s":"BE","v":0.45},{"yr":1995,"s":"BE","v":0.75},{"yr":1996,"s":"BE","v":0.30},{"yr":1997,"s":"BE","v":0.65},{"yr":1998,"s":"BE","v":0.98},{"yr":1999,"s":"BE","v":0.80},
{"yr":2000,"s":"BE","v":0.78},{"yr":2001,"s":"BE","v":0.88},{"yr":2002,"s":"BE","v":0.95},{"yr":2003,"s":"BE","v":0.95},{"yr":2004,"s":"BE","v":0.90},{"yr":2005,"s":"BE","v":1.05},{"yr":2006,"s":"BE","v":1.00},{"yr":2007,"s":"BE","v":1.20},{"yr":2008,"s":"BE","v":0.85},{"yr":2009,"s":"BE","v":0.90},
{"yr":2010,"s":"BE","v":1.17},{"yr":2011,"s":"BE","v":0.92},{"yr":2012,"s":"BE","v":0.95},{"yr":2013,"s":"BE","v":1.02},{"yr":2014,"s":"BE","v":1.05},
{"yr":1880,"s":"LUG","v":-0.40},{"yr":1881,"s":"LUG","v":-0.36},{"yr":1882,"s":"LUG","v":-0.35},{"yr":1883,"s":"LUG","v":-0.45},{"yr":1884,"s":"LUG","v":-0.75},{"yr":1885,"s":"LUG","v":-0.58},{"yr":1886,"s":"LUG","v":-0.60},{"yr":1887,"s":"LUG","v":-0.55},{"yr":1888,"s":"LUG","v":-0.38},{"yr":1889,"s":"LUG","v":-0.20},
{"yr":1890,"s":"LUG","v":-0.38},{"yr":1891,"s":"LUG","v":-0.40},{"yr":1892,"s":"LUG","v":-0.45},{"yr":1893,"s":"LUG","v":-0.42},{"yr":1894,"s":"LUG","v":-0.32},{"yr":1895,"s":"LUG","v":-0.45},{"yr":1896,"s":"LUG","v":-0.30},{"yr":1897,"s":"LUG","v":-0.05},{"yr":1898,"s":"LUG","v":-0.30},{"yr":1899,"s":"LUG","v":-0.18},
{"yr":1900,"s":"LUG","v":0.00},{"yr":1901,"s":"LUG","v":-0.08},{"yr":1902,"s":"LUG","v":-0.35},{"yr":1903,"s":"LUG","v":-0.40},{"yr":1904,"s":"LUG","v":-0.45},{"yr":1905,"s":"LUG","v":-0.35},{"yr":1906,"s":"LUG","v":-0.25},{"yr":1907,"s":"LUG","v":-0.50},{"yr":1908,"s":"LUG","v":-0.42},{"yr":1909,"s":"LUG","v":-0.35},
{"yr":1910,"s":"LUG","v":-0.35},{"yr":1911,"s":"LUG","v":-0.38},{"yr":1912,"s":"LUG","v":-0.48},{"yr":1913,"s":"LUG","v":-0.30},{"yr":1914,"s":"LUG","v":-0.15},{"yr":1915,"s":"LUG","v":-0.10},{"yr":1916,"s":"LUG","v":-0.35},{"yr":1917,"s":"LUG","v":-0.62},{"yr":1918,"s":"LUG","v":-0.42},{"yr":1919,"s":"LUG","v":-0.30},
{"yr":1920,"s":"LUG","v":-0.22},{"yr":1921,"s":"LUG","v":0.02},{"yr":1922,"s":"LUG","v":-0.18},{"yr":1923,"s":"LUG","v":-0.15},{"yr":1924,"s":"LUG","v":-0.22},{"yr":1925,"s":"LUG","v":0.00},{"yr":1926,"s":"LUG","v":0.17},{"yr":1927,"s":"LUG","v":0.05},{"yr":1928,"s":"LUG","v":0.05},{"yr":1929,"s":"LUG","v":-0.25},
{"yr":1930,"s":"LUG","v":0.10},{"yr":1931,"s":"LUG","v":0.17},{"yr":1932,"s":"LUG","v":0.08},{"yr":1933,"s":"LUG","v":-0.25},{"yr":1934,"s":"LUG","v":0.12},{"yr":1935,"s":"LUG","v":-0.02},{"yr":1936,"s":"LUG","v":0.02},{"yr":1937,"s":"LUG","v":0.10},{"yr":1938,"s":"LUG","v":0.25},{"yr":1939,"s":"LUG","v":0.15},
{"yr":1940,"s":"LUG","v":0.05},{"yr":1941,"s":"LUG","v":0.02},{"yr":1942,"s":"LUG","v":-0.05},{"yr":1943,"s":"LUG","v":0.10},{"yr":1944,"s":"LUG","v":0.12},{"yr":1945,"s":"LUG","v":-0.10},{"yr":1946,"s":"LUG","v":0.05},{"yr":1947,"s":"LUG","v":0.08},{"yr":1948,"s":"LUG","v":0.10},{"yr":1949,"s":"LUG","v":0.02},
{"yr":1950,"s":"LUG","v":-0.25},{"yr":1951,"s":"LUG","v":-0.05},{"yr":1952,"s":"LUG","v":-0.02},{"yr":1953,"s":"LUG","v":0.15},{"yr":1954,"s":"LUG","v":-0.05},{"yr":1955,"s":"LUG","v":-0.12},{"yr":1956,"s":"LUG","v":-0.38},{"yr":1957,"s":"LUG","v":-0.02},{"yr":1958,"s":"LUG","v":0.05},{"yr":1959,"s":"LUG","v":0.00},
{"yr":1960,"s":"LUG","v":-0.02},{"yr":1961,"s":"LUG","v":0.05},{"yr":1962,"s":"LUG","v":0.08},{"yr":1963,"s":"LUG","v":0.10},{"yr":1964,"s":"LUG","v":-0.38},{"yr":1965,"s":"LUG","v":-0.32},{"yr":1966,"s":"LUG","v":-0.18},{"yr":1967,"s":"LUG","v":-0.15},{"yr":1968,"s":"LUG","v":-0.25},{"yr":1969,"s":"LUG","v":-0.28},
{"yr":1970,"s":"LUG","v":-0.15},{"yr":1971,"s":"LUG","v":-0.22},{"yr":1972,"s":"LUG","v":-0.38},{"yr":1973,"s":"LUG","v":0.12},{"yr":1974,"s":"LUG","v":-0.28},{"yr":1975,"s":"LUG","v":-0.02},{"yr":1976,"s":"LUG","v":-0.35},{"yr":1977,"s":"LUG","v":0.08},{"yr":1978,"s":"LUG","v":-0.05},{"yr":1979,"s":"LUG","v":0.02},
{"yr":1980,"s":"LUG","v":0.10},{"yr":1981,"s":"LUG","v":0.40},{"yr":1982,"s":"LUG","v":0.05},{"yr":1983,"s":"LUG","v":0.30},{"yr":1984,"s":"LUG","v":-0.08},{"yr":1985,"s":"LUG","v":-0.12},{"yr":1986,"s":"LUG","v":0.12},{"yr":1987,"s":"LUG","v":0.25},{"yr":1988,"s":"LUG","v":0.42},{"yr":1989,"s":"LUG","v":0.35},
{"yr":1990,"s":"LUG","v":0.58},{"yr":1991,"s":"LUG","v":0.42},{"yr":1992,"s":"LUG","v":0.05},{"yr":1993,"s":"LUG","v":0.12},{"yr":1994,"s":"LUG","v":0.35},{"yr":1995,"s":"LUG","v":0.55},{"yr":1996,"s":"LUG","v":0.20},{"yr":1997,"s":"LUG","v":0.52},{"yr":1998,"s":"LUG","v":0.85},{"yr":1999,"s":"LUG","v":0.65},
{"yr":2000,"s":"LUG","v":0.62},{"yr":2001,"s":"LUG","v":0.75},{"yr":2002,"s":"LUG","v":0.80},{"yr":2003,"s":"LUG","v":0.82},{"yr":2004,"s":"LUG","v":0.78},{"yr":2005,"s":"LUG","v":0.92}
]
},
"resolve": {"scale": {"color": "independent", "strokeDash": "independent", "shape": "independent", "fill": "independent", "stroke": "independent"}},
"vconcat": [
{
  "width": 565, "height": 216,
  "layer": [
    {
      "data": {"values": [{}]},
      "mark": {"type": "rule", "stroke": "#000000", "strokeWidth": 2, "strokeDash": [7, 4]},
      "encoding": {
        "y": {"datum": 0, "type": "quantitative", "scale": {"domain": [-1.5, 1.92], "nice": false, "zero": false},
              "axis": {"orient": "left", "values": [-1.5, -1, -0.5, 0, 0.5, 1, 1.5], "labelExpr": "(datum.value < 0 ? '-' : '') + format(abs(datum.value), '.1f')", "labelOverlap": false, "labelSeparation": -100, "labelFlush": false, "labelFontSize": 17, "labelPadding": 11, "ticks": false, "domain": false, "grid": false, "title": "Temperature anomaly", "titleFontSize": 17.5, "titleFontWeight": "normal", "titleX": -73.5, "titleY": 126, "titleBaseline": "middle", "titleAngle": -90, "titleAlign": "center"}}
      }
    },
    {
      "layer": [
        {
          "data": {"name": "a"},
          "transform": [{"filter": "datum.s == 'non'"}],
          "mark": {"type": "line", "strokeWidth": 2.5},
          "encoding": {
            "x": {"field": "yr", "type": "quantitative", "scale": {"domain": [1880, 2014], "nice": false, "zero": false},
                  "axis": {"values": [1880, 1900, 1920, 1940, 1960, 1980, 2000], "grid": true, "gridColor": "#c0c0c0", "gridWidth": 1, "labels": false, "ticks": false, "domain": false, "title": null}},
            "y": {"field": "v", "type": "quantitative", "scale": {"domain": [-1.5, 1.92], "nice": false, "zero": false},
                  "axis": {"orient": "left", "values": [-1.5, -1, -0.5, 0, 0.5, 1, 1.5], "labels": false, "grid": true, "gridColor": "#c0c0c0", "gridWidth": 1, "ticks": false, "domain": false, "title": "relative to 1961-90 (ºC)", "titleFontSize": 14.5, "titleFontWeight": "bold", "titleFontStyle": "italic", "titleX": -51, "titleY": 118, "titleBaseline": "middle", "titleAngle": -90, "titleAlign": "center"}},
            "color": {"field": "s", "type": "nominal", "scale": {"domain": ["non", "hom"], "range": ["#2e75b6", "#e8141b"]},
                      "legend": {"title": null, "orient": "none", "legendX": 312.5, "legendY": 166, "fillColor": "#c9c19b", "strokeColor": "#555555", "padding": 0, "rowPadding": 0, "symbolType": "stroke", "symbolSize": 576, "symbolStrokeWidth": 2.5, "symbolOffset": 15, "labelOffset": 4, "labelFontSize": 16.5, "labelLimit": 400, "labelColor": "#111111", "labelExpr": "datum.label == 'non' ? 'Non-homogenized dataset' : 'Homogenized dataset'"}},
            "strokeDash": {"field": "s", "type": "nominal", "scale": {"domain": ["non", "hom"], "range": [[7, 4], [1, 0]]},
                      "legend": {"title": null, "orient": "none", "legendX": 312.5, "legendY": 166, "fillColor": "#c9c19b", "strokeColor": "#555555", "padding": 0, "rowPadding": 0, "symbolType": "stroke", "symbolSize": 576, "symbolStrokeWidth": 2.5, "symbolOffset": 15, "labelOffset": 4, "labelFontSize": 16.5, "labelLimit": 400, "labelColor": "#111111", "labelExpr": "datum.label == 'non' ? 'Non-homogenized dataset' : 'Homogenized dataset'"}}
          }
        },
        {
          "data": {"values": [{}]},
          "mark": {"type": "rect", "fill": "#d9d9d9", "stroke": "#7f7f7f", "strokeWidth": 1},
          "encoding": {
            "x": {"datum": 1880, "type": "quantitative"},
            "x2": {"datum": 2014},
            "y": {"datum": 1.5, "type": "quantitative"},
            "y2": {"datum": 1.92}
          }
        },
        {
          "data": {"name": "a"},
          "transform": [{"filter": "datum.s == 'hom'"}],
          "mark": {"type": "line", "strokeWidth": 3},
          "encoding": {
            "x": {"field": "yr", "type": "quantitative"},
            "y": {"field": "v", "type": "quantitative"},
            "color": {"field": "s", "type": "nominal"},
            "strokeDash": {"field": "s", "type": "nominal"}
          }
        },
        {
          "data": {"values": [{}]},
          "mark": {"type": "text", "text": "(a)", "align": "left", "baseline": "middle", "fontSize": 16.5, "fontWeight": "bold", "color": "#222222"},
          "encoding": {"x": {"datum": 1881.6, "type": "quantitative"}, "y": {"datum": 1.71, "type": "quantitative"}}
        },
        {
          "data": {"values": [{}]},
          "mark": {"type": "text", "text": "N. Hemisphere temperatures (land)", "align": "left", "baseline": "middle", "fontSize": 16.5, "color": "#222222"},
          "encoding": {"x": {"datum": 1887.0, "type": "quantitative"}, "y": {"datum": 1.71, "type": "quantitative"}}
        },
        {
          "data": {"values": [{}]},
          "mark": {"type": "text", "text": "All GHCN stations", "align": "right", "baseline": "middle", "fontSize": 16.5, "fontStyle": "italic", "color": "#222222"},
          "encoding": {"x": {"datum": 2010.2, "type": "quantitative"}, "y": {"datum": 1.71, "type": "quantitative"}}
        }
      ]
    }
  ],
  "resolve": {"scale": {"y": "independent"}}
},
{
  "width": 565, "height": 216,
  "layer": [
    {
      "data": {"values": [{}]},
      "mark": {"type": "rule", "stroke": "#000000", "strokeWidth": 2, "strokeDash": [7, 4]},
      "encoding": {
        "y": {"datum": 0, "type": "quantitative", "scale": {"domain": [-1.5, 1.92], "nice": false, "zero": false},
              "axis": {"orient": "left", "values": [-1.5, -1, -0.5, 0, 0.5, 1, 1.5], "labelExpr": "(datum.value < 0 ? '-' : '') + format(abs(datum.value), '.1f')", "labelOverlap": false, "labelSeparation": -100, "labelFlush": false, "labelFontSize": 17, "labelPadding": 11, "ticks": false, "domain": false, "grid": false, "title": "Temperature anomaly", "titleFontSize": 17.5, "titleFontWeight": "normal", "titleX": -73.5, "titleY": 126, "titleBaseline": "middle", "titleAngle": -90, "titleAlign": "center"}}
      }
    },
    {
      "layer": [
        {
          "data": {"name": "b"},
          "mark": {"type": "line", "strokeWidth": 1.2},
          "encoding": {
            "x": {"field": "yr", "type": "quantitative", "scale": {"domain": [1880, 2014], "nice": false, "zero": false},
                  "axis": {"values": [1880, 1900, 1920, 1940, 1960, 1980, 2000], "format": "d", "labelFlush": false, "labelOverlap": false, "grid": true, "gridColor": "#c0c0c0", "gridWidth": 1, "labels": true, "ticks": false, "domain": false, "title": null, "labelFontSize": 16.5, "labelPadding": 3.5}},
            "y": {"field": "v", "type": "quantitative", "scale": {"domain": [-1.5, 1.92], "nice": false, "zero": false},
                  "axis": {"orient": "left", "values": [-1.5, -1, -0.5, 0, 0.5, 1, 1.5], "labels": false, "grid": true, "gridColor": "#c0c0c0", "gridWidth": 1, "ticks": false, "domain": false, "title": "relative to 1961-90 (ºC)", "titleFontSize": 14.5, "titleFontWeight": "bold", "titleFontStyle": "italic", "titleX": -51, "titleY": 119, "titleBaseline": "middle", "titleAngle": -90, "titleAlign": "center"}},
            "color": {"field": "s", "type": "nominal", "scale": {"domain": ["NOAA", "CRU", "GISS", "BE", "LUG"], "range": ["#1f2a5e", "#2e9e44", "#7b3fb3", "#4bacc6", "#f5c542"]}, "legend": null}
          }
        },
        {
          "data": {"values": [{}]},
          "mark": {"type": "rect", "fill": "#d9d9d9", "stroke": "#7f7f7f", "strokeWidth": 1},
          "encoding": {
            "x": {"datum": 1880, "type": "quantitative"},
            "x2": {"datum": 2014},
            "y": {"datum": 1.5, "type": "quantitative"},
            "y2": {"datum": 1.92}
          }
        },
        {
          "data": {"name": "b"},
          "mark": {"type": "point", "filled": true, "size": 28, "strokeWidth": 0.7, "opacity": 1},
          "encoding": {
            "x": {"field": "yr", "type": "quantitative"},
            "y": {"field": "v", "type": "quantitative"},
            "shape": {"field": "s", "type": "nominal", "scale": {"domain": ["NOAA", "CRU", "GISS", "BE", "LUG"], "range": ["circle", "triangle-up", "square", "diamond", "circle"]}, "legend": null},
            "fill": {"field": "s", "type": "nominal", "scale": {"domain": ["NOAA", "CRU", "GISS", "BE", "LUG"], "range": ["#1f2a5e", "#2e9e44", "#7030a0", "#4bacc6", "#ffffa6"]}, "legend": null},
            "stroke": {"field": "s", "type": "nominal", "scale": {"domain": ["NOAA", "CRU", "GISS", "BE", "LUG"], "range": ["#0d1430", "#1b5e28", "#3d1a5c", "#1f4e79", "#6b6b40"]}, "legend": null}
          }
        },
        {
          "data": {"name": "a"},
          "transform": [{"filter": "datum.s == 'hom'"}],
          "mark": {"type": "line", "strokeWidth": 3, "color": "#e8141b"},
          "encoding": {
            "x": {"field": "yr", "type": "quantitative"},
            "y": {"field": "v", "type": "quantitative"}
          }
        },
        {
          "data": {"values": [{}]},
          "mark": {"type": "text", "text": "(b)", "align": "left", "baseline": "middle", "fontSize": 16.5, "fontWeight": "bold", "color": "#222222"},
          "encoding": {"x": {"datum": 1881.6, "type": "quantitative"}, "y": {"datum": 1.71, "type": "quantitative"}}
        },
        {
          "data": {"values": [{}]},
          "mark": {"type": "text", "text": "\"All GHCN stations\"", "align": "left", "baseline": "middle", "fontSize": 16.5, "fontStyle": "italic", "color": "#222222"},
          "encoding": {"x": {"datum": 1888.5, "type": "quantitative"}, "y": {"datum": 1.71, "type": "quantitative"}}
        },
        {
          "data": {"values": [{}]},
          "mark": {"type": "text", "text": "(homogenized dataset) vs previous estimates", "align": "left", "baseline": "middle", "fontSize": 16.5, "color": "#222222"},
          "encoding": {"x": {"datum": 1923.4, "type": "quantitative"}, "y": {"datum": 1.71, "type": "quantitative"}}
        },
        {
          "data": {"values": []},
          "mark": {"type": "point", "filled": true},
          "encoding": {
            "shape": {"field": "s", "type": "nominal",
              "scale": {"domain": ["NOAA", "GISS", "LUG", "CRU", "BE", "GHCN"], "range": [
                "M-1.3,0H-0.45M0.45,0H1.3M-0.45,0A0.45,0.45,0,1,1,0.45,0A0.45,0.45,0,1,1,-0.45,0Z",
                "M-1.3,0H-0.4M0.4,0H1.3M-0.4,-0.4H0.4V0.4H-0.4Z",
                "M-1.3,0H-0.45M0.45,0H1.3M-0.45,0A0.45,0.45,0,1,1,0.45,0A0.45,0.45,0,1,1,-0.45,0Z",
                "M-1.3,0H-0.45M0.45,0H1.3M-0.47,0.36L0,-0.45L0.47,0.36Z",
                "M-1.3,0H-0.5M0.5,0H1.3M-0.5,0L0,-0.5L0.5,0L0,0.5Z",
                "M-1.3,-0.1H1.3V0.1H-1.3Z"]},
              "legend": {"title": null, "orient": "none", "legendX": 214.5, "legendY": 164, "columns": 2, "fillColor": "#c9c19b", "strokeColor": "#555555", "padding": 0, "rowPadding": 0, "columnPadding": 12, "symbolSize": 196, "symbolStrokeWidth": 1.5, "symbolOffset": 12, "labelOffset": 4, "labelFontSize": 16, "labelLimit": 300, "labelColor": "#111111", "labelExpr": "datum.label == 'NOAA' ? 'NOAA NCDC' : datum.label == 'CRU' ? 'CRUTEM4' : datum.label == 'GISS' ? 'GISTEMP' : datum.label == 'BE' ? 'Berkeley Earth' : datum.label == 'LUG' ? 'Lugina et al., 2006' : 'All GHCN stations'"}},
            "fill": {"field": "s", "type": "nominal",
              "scale": {"domain": ["NOAA", "GISS", "LUG", "CRU", "BE", "GHCN"], "range": ["#1f2a5e", "#7030a0", "#ffffa6", "#2e9e44", "#4bacc6", "#e8141b"]},
              "legend": {"title": null, "orient": "none", "legendX": 214.5, "legendY": 164, "columns": 2, "fillColor": "#c9c19b", "strokeColor": "#555555", "padding": 0, "rowPadding": 0, "columnPadding": 12, "symbolSize": 196, "symbolStrokeWidth": 1.5, "symbolOffset": 12, "labelOffset": 4, "labelFontSize": 16, "labelLimit": 300, "labelColor": "#111111", "labelExpr": "datum.label == 'NOAA' ? 'NOAA NCDC' : datum.label == 'CRU' ? 'CRUTEM4' : datum.label == 'GISS' ? 'GISTEMP' : datum.label == 'BE' ? 'Berkeley Earth' : datum.label == 'LUG' ? 'Lugina et al., 2006' : 'All GHCN stations'"}},
            "stroke": {"field": "s", "type": "nominal",
              "scale": {"domain": ["NOAA", "GISS", "LUG", "CRU", "BE", "GHCN"], "range": ["#1f2a5e", "#7b3fb3", "#e6b830", "#2e9e44", "#4bacc6", "#e8141b"]},
              "legend": {"title": null, "orient": "none", "legendX": 214.5, "legendY": 164, "columns": 2, "fillColor": "#c9c19b", "strokeColor": "#555555", "padding": 0, "rowPadding": 0, "columnPadding": 12, "symbolSize": 196, "symbolStrokeWidth": 1.5, "symbolOffset": 12, "labelOffset": 4, "labelFontSize": 16, "labelLimit": 300, "labelColor": "#111111", "labelExpr": "datum.label == 'NOAA' ? 'NOAA NCDC' : datum.label == 'CRU' ? 'CRUTEM4' : datum.label == 'GISS' ? 'GISTEMP' : datum.label == 'BE' ? 'Berkeley Earth' : datum.label == 'LUG' ? 'Lugina et al., 2006' : 'All GHCN stations'"}}
          }
        }
      ],
      "resolve": {"scale": {"shape": "independent", "fill": "independent", "stroke": "independent"}}
    }
  ],
  "resolve": {"scale": {"y": "independent"}}
}
]
}
